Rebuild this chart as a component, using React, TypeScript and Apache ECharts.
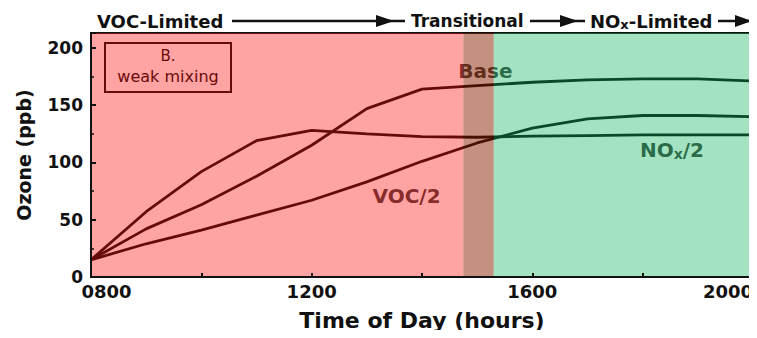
import React, { useEffect, useRef } from "react";
import * as echarts from "echarts";

// ---- data ----
const hours = [8, 9, 10, 11, 12, 13, 14, 15, 16, 17, 18, 19, 20];
const baseO3 = [15, 42, 63, 88, 115, 147, 164, 167, 170, 172, 173, 173, 171];
const voc2O3 = [15, 29, 41, 54, 67, 83, 101, 117, 130, 138, 141, 141, 140];
const nox2O3 = [15, 57, 92, 119, 128, 125, 122.5, 122, 123, 123.5, 124, 124, 124];

const xTickValues = [8, 12, 16, 20];
const xTickLabels = ["0800", "1200", "1600", "2000"];

// regime boundaries (hours)
const regimeBreaks = [8, 14.75, 15.3, 20];
const regimeColors = ["rgba(255,25,25,0.4)", "rgba(137,33,0,0.5)", "rgba(25,185,100,0.4)"];

// curve labels [hour, ppb, text]
const curveLabels: [number, number, string][] = [
  [15.15, 180, "Base"],
  [13.72, 71, "VOC/2"],
  [18.53, 111, "NO{sub|x}/2"],
];

const FONT = "DejaVu Sans";

export default function App() {
  const ref = useRef<HTMLDivElement>(null);
  useEffect(() => {
    if (!ref.current) return;
    const chart = echarts.init(ref.current, null, { renderer: "svg" });
    const lineSeries = (name: string, vals: number[]) => ({
      name,
      type: "line",
      z: 3,
      data: hours.map((h, i) => [h, vals[i]]),
      showSymbol: false,
      symbol: "none",
      lineStyle: { color: "#000", width: 2.8 },
      silent: true,
    });
    chart.setOption({
      animation: false,
      grid: {
        left: 91,
        right: 4,
        top: 33,
        bottom: 61,
        show: true,
        borderColor: "#111",
        borderWidth: 2,
        backgroundColor: "transparent",
      },
      xAxis: {
        type: "value",
        min: 8,
        max: 20,
        interval: 2,
        z: 20,
        name: "Time of Day (hours)",
        nameLocation: "middle",
        nameGap: 32,
        nameTextStyle: { fontFamily: FONT, fontWeight: "bold", fontSize: 22, color: "#111" },
        axisLine: { show: true, lineStyle: { color: "#111", width: 2 } },
        axisTick: { show: true, inside: true, length: 4, lineStyle: { color: "#111", width: 2 } },
        splitLine: { show: false },
        axisLabel: {
          margin: 5,
          fontFamily: FONT,
          fontWeight: "bold",
          fontSize: 18,
          color: "#111",
          alignMaxLabel: "right",
          formatter: (v: number) => {
            const i = xTickValues.indexOf(v);
            if (i < 0) return "";
            return i === 0 ? "{first|" + xTickLabels[i] + "}" : xTickLabels[i];
          },
          rich: {
            first: { fontFamily: FONT, fontWeight: "bold", fontSize: 18, color: "#111", padding: [0, 0, 0, 31] },
          },
        },
      },
      yAxis: {
        type: "value",
        min: 0,
        max: 213,
        interval: 50,
        z: 20,
        name: "Ozone (ppb)",
        nameLocation: "middle",
        nameGap: 58,
        nameRotate: 90,
        nameTextStyle: { fontFamily: FONT, fontWeight: "bold", fontSize: 19, color: "#111" },
        axisLine: { show: true, lineStyle: { color: "#111", width: 2 } },
        axisTick: { show: true, inside: true, length: 5, lineStyle: { color: "#111", width: 2 } },
        minorTick: { show: true, splitNumber: 2, length: 3, lineStyle: { color: "#111", width: 1.5 } },
        splitLine: { show: false },
        axisLabel: {
          margin: 8,
          fontFamily: FONT,
          fontWeight: "bold",
          fontSize: 17,
          color: "#111",
        },
      },
      series: [
        lineSeries("Base", baseO3),
        lineSeries("VOC/2", voc2O3),
        lineSeries("NOx/2", nox2O3),
        {
          type: "scatter",
          z: 4,
          symbolSize: 0,
          silent: true,
          data: curveLabels.map(([x, y, t]) => ({ value: [x, y], name: t })),
          label: {
            show: true,
            position: "inside",
            formatter: (p: any) => p.name,
            fontFamily: FONT,
            fontWeight: "bold",
            fontSize: 20,
            color: "#000",
            rich: {
              sub: { fontFamily: FONT, fontWeight: "bold", fontSize: 14, color: "#000", verticalAlign: "bottom", padding: [8, 0, 0, 0] },
            },
          },
        },
        {
          type: "line",
          z: 10,
          data: [],
          silent: true,
          markArea: {
            z: 10,
            silent: true,
            label: { show: false },
            data: regimeColors.map((c, i) => [
              { xAxis: regimeBreaks[i], itemStyle: { color: c } },
              { xAxis: regimeBreaks[i + 1] },
            ]),
          },
        },
      ],
      graphic: [
        {
          type: "rect",
          z: 1,
          shape: { x: 105, y: 43, width: 126, height: 49 },
          style: { fill: "none", stroke: "#000", lineWidth: 2 },
        },
        {
          type: "text",
          z: 1,
          x: 168,
          y: 56,
          style: { text: "B.", fontFamily: FONT, fontSize: 15, fill: "#000", align: "center", verticalAlign: "middle" },
        },
        {
          type: "text",
          z: 1,
          x: 168,
          y: 76,
          style: { text: "weak mixing", fontFamily: FONT, fontSize: 16, fill: "#000", align: "center", verticalAlign: "middle" },
        },
        // top regime annotation
        {
          type: "text",
          x: 97,
          y: 21,
          style: { text: "VOC-Limited", fontFamily: FONT, fontWeight: "bold", fontSize: 18, fill: "#111", verticalAlign: "middle" },
        },
        { type: "line", shape: { x1: 232, y1: 21, x2: 405, y2: 21 }, style: { stroke: "#111", lineWidth: 2.5 } },
        { type: "polygon", shape: { points: [[376, 15], [394, 21], [376, 27]] }, style: { fill: "#111" } },
        {
          type: "text",
          x: 411,
          y: 21,
          style: { text: "Transitional", fontFamily: FONT, fontWeight: "bold", fontSize: 17, fill: "#111", verticalAlign: "middle" },
        },
        { type: "line", shape: { x1: 530, y1: 21, x2: 585, y2: 21 }, style: { stroke: "#111", lineWidth: 2.5 } },
        { type: "polygon", shape: { points: [[560, 15], [578, 21], [560, 27]] }, style: { fill: "#111" } },
        {
          type: "text",
          x: 590,
          y: 21,
          style: {
            text: "NO{sub|x}-Limited",
            fontFamily: FONT,
            fontWeight: "bold",
            fontSize: 18,
            fill: "#111",
            verticalAlign: "middle",
            rich: {
              sub: { fontFamily: FONT, fontWeight: "bold", fontSize: 13, fill: "#111", verticalAlign: "bottom", padding: [7, 0, 0, 0] },
            },
          },
        },
        { type: "line", shape: { x1: 718, y1: 21, x2: 756, y2: 21 }, style: { stroke: "#111", lineWidth: 2.5 } },
        { type: "polygon", shape: { points: [[735, 15], [752, 21], [735, 27]] }, style: { fill: "#111" } },
      ],
    });
    return () => chart.dispose();
  }, []);
  return <div ref={ref} style={{ width: 757, height: 338, margin: -8 }} />;
}
